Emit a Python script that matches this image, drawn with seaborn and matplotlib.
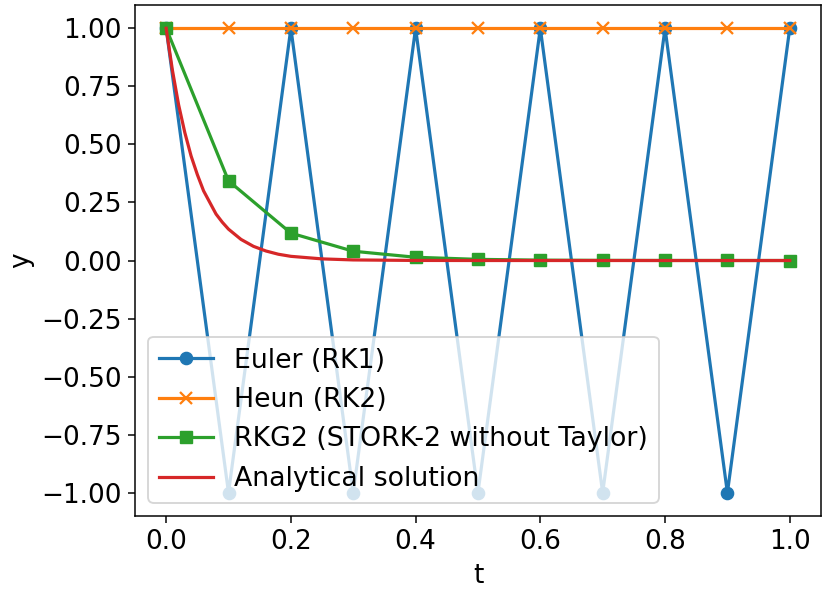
import numpy as np
import pandas as pd
import matplotlib
matplotlib.use("Agg")
import matplotlib.pyplot as plt
import seaborn as sb

# step points (h = 0.1)
t_steps = [0.0, 0.1, 0.2, 0.3, 0.4, 0.5, 0.6, 0.7, 0.8, 0.9, 1.0]
y_euler = [1, -1, 1, -1, 1, -1, 1, -1, 1, -1, 1]
y_heun = [1, 1, 1, 1, 1, 1, 1, 1, 1, 1, 1]
y_rkg2 = [1.0, 0.343, 0.118, 0.040, 0.014, 0.005, 0.0016, 0.0006, 0.0002, 0.0001, 0.0]

# analytical curve
t_exact = [0.0, 0.01, 0.02, 0.03, 0.04, 0.05, 0.06, 0.07, 0.08, 0.09, 0.10,
           0.12, 0.14, 0.16, 0.18, 0.20, 0.25, 0.30, 0.40, 0.50, 0.60,
           0.70, 0.80, 0.90, 1.0]
y_exact = [1.0, 0.82, 0.67, 0.55, 0.45, 0.37, 0.30, 0.25, 0.20, 0.165, 0.135,
           0.091, 0.061, 0.041, 0.027, 0.018, 0.007, 0.0025, 0.0003, 0.0, 0.0,
           0.0, 0.0, 0.0, 0.0]

DPI = 135
plt.rcParams["font.size"] = 14
plt.rcParams["font.family"] = ["DejaVu Sans"]

fig = plt.figure(figsize=(822 / DPI, 589 / DPI), dpi=DPI)
ax = fig.add_axes([0.1642, 0.1239, 0.8345, 0.8676])

pal = sb.color_palette("tab10")
lw, ms = 1.7, 6.5
sb.lineplot(x=t_steps, y=y_euler, ax=ax, color=pal[0], marker="o", markersize=ms,
            linewidth=lw, markeredgecolor=pal[0], label="Euler (RK1)")
sb.lineplot(x=t_steps, y=y_heun, ax=ax, color=pal[1], marker="x", markersize=ms,
            linewidth=lw, markeredgecolor=pal[1], markeredgewidth=1.2,
            label="Heun (RK2)")
sb.lineplot(x=t_steps, y=y_rkg2, ax=ax, color=pal[2], marker="s", markersize=ms,
            linewidth=lw, markeredgecolor=pal[2], label="RKG2 (STORK-2 without Taylor)")
sb.lineplot(x=t_exact, y=y_exact, ax=ax, color=pal[3], linewidth=lw,
            label="Analytical solution")

ax.set_xlabel("t")
ax.set_ylabel("y")
ax.set_yticks([1.0, 0.75, 0.5, 0.25, 0.0, -0.25, -0.5, -0.75, -1.0])
ax.legend(loc="lower left", fontsize=14.3)

fig.savefig("out.png", dpi=DPI)
